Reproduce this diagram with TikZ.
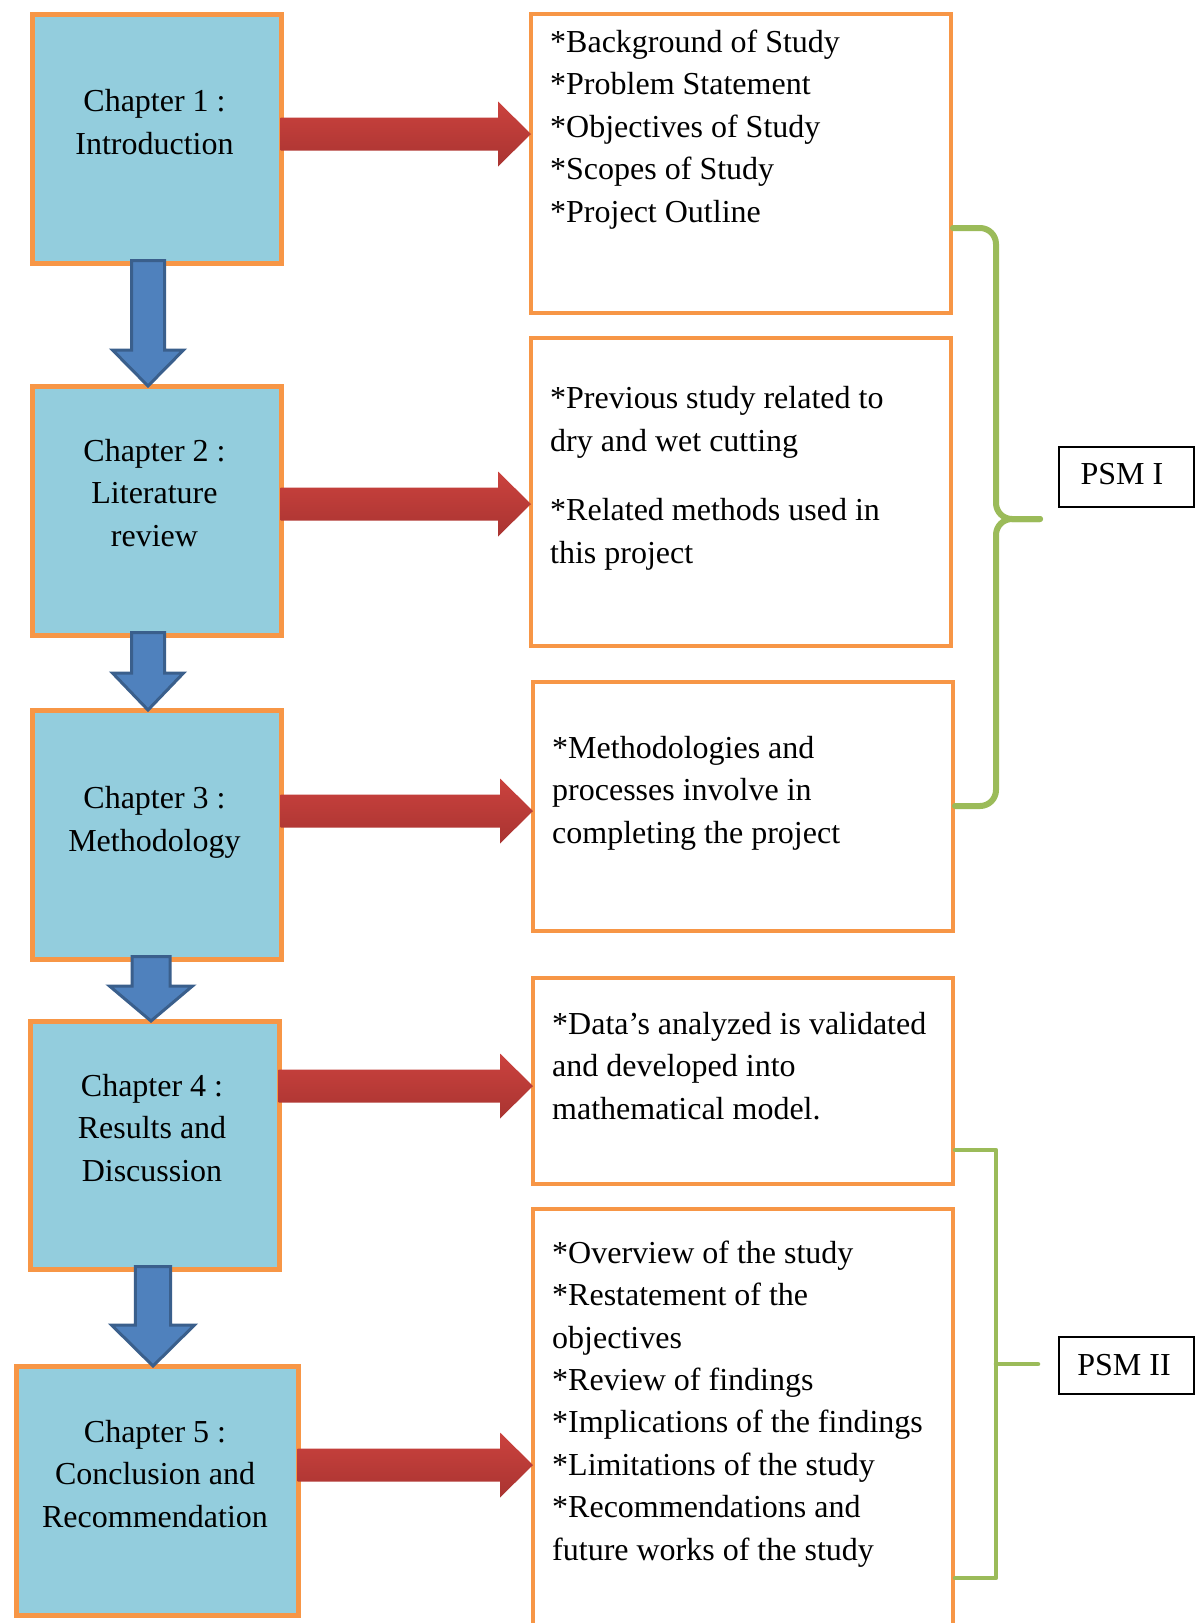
\documentclass[tikz,border=0pt]{standalone}
\usepackage{fontspec}
\setmainfont{Liberation Serif}
\usetikzlibrary{calc}
\definecolor{chfill}{HTML}{93CDDD}
\definecolor{orangeb}{HTML}{F79646}
\definecolor{redtop}{HTML}{CB423E}
\definecolor{redbot}{HTML}{A93431}
\definecolor{blueA}{HTML}{4F81BD}
\definecolor{blueB}{HTML}{3A5F8C}
\definecolor{greenb}{HTML}{9BBB59}
\newcommand\redarrow[3]{%
  \coordinate (ry) at (0,#3);
  \shade[top color=redtop, bottom color=redbot]
    ($(#1.east |- ry)+(-3,-16.5)$) -- ($(#2.west |- ry)+(-31,-16.5)$)
    -- ($(#2.west |- ry)+(-31,-32.5)$) -- ($(#2.west |- ry)+(2,0)$)
    -- ($(#2.west |- ry)+(-31,32.5)$) -- ($(#2.west |- ry)+(-31,16.5)$)
    -- ($(#1.east |- ry)+(-3,16.5)$) -- cycle;}
\newcommand\bluearrow[6]{%
  \coordinate (bx) at (#3,0);
  \filldraw[fill=blueA, draw=blueB, line width=3pt, line join=miter]
    ($(#1.south -| bx)+(-#4,-5)$) -- ($(#2.north -| bx)+(-#4,-#6)$)
    -- ($(#2.north -| bx)+(-#5,-#6)$) -- ($(#2.north -| bx)+(0,2)$)
    -- ($(#2.north -| bx)+(#5,-#6)$) -- ($(#2.north -| bx)+(#4,-#6)$)
    -- ($(#1.south -| bx)+(#4,-5)$) -- cycle;}
\begin{document}
\begin{tikzpicture}[x=1pt,y=-1pt,
  chbox/.style={draw=orangeb, line width=4.5pt, fill=chfill, anchor=north west, inner sep=0pt},
  infobox/.style={draw=orangeb, line width=4pt, fill=white, anchor=north west, inner sep=0pt},
  psmbox/.style={draw=black, line width=1.5pt, fill=white, anchor=north west, inner sep=0pt},
  chtext/.style={font=\fontsize{32}{42.4}\selectfont, align=center, anchor=base, inner sep=0pt},
  infotext/.style={font=\fontsize{32}{42.4}\selectfont, align=left, anchor=base west, inner sep=0pt},
  braceA/.style={draw=greenb, line width=6pt, line cap=round, line join=round},
  braceB/.style={draw=greenb, line width=4.5pt, line cap=round, line join=round}]
\fill[white] (0,0) rectangle (1201,1623);
\useasboundingbox (0,0) rectangle (1201,1623);
% chapter boxes
\node[chbox, minimum width=249pt, minimum height=249pt] (c1) at (30,12) {};
\node[chbox, minimum width=249pt, minimum height=249pt] (c2) at (30,384) {};
\node[chbox, minimum width=249pt, minimum height=249pt] (c3) at (30,708) {};
\node[chbox, minimum width=249pt, minimum height=248pt] (c4) at (28,1019) {};
\node[chbox, minimum width=282pt, minimum height=249pt] (c5) at (14,1364) {};
% info boxes
\node[infobox, minimum width=420pt, minimum height=299pt] (r1) at (529,12) {};
\node[infobox, minimum width=420pt, minimum height=308pt] (r2) at (529,336) {};
\node[infobox, minimum width=420pt, minimum height=249pt] (r3) at (531,680) {};
\node[infobox, minimum width=420pt, minimum height=206pt] (r4) at (531,976) {};
\node[infobox, minimum width=420pt, minimum height=460pt] (r5) at (531,1207) {};
% PSM boxes
\node[psmbox, minimum width=135pt, minimum height=60pt] (p1) at (1058,446) {};
\node[psmbox, minimum width=135pt, minimum height=57pt] (p2) at (1058,1336) {};
\node[chtext] (p1t) at (1122,484) {PSM I};
\node[chtext] (p2t) at (1124,1375) {PSM II};
% chapter texts (y = baseline of last line)
\node[chtext] (t1) at (154.5,154) {Chapter 1 :\\Introduction};
\node[chtext] (t2) at (154.5,546) {Chapter 2 :\\Literature\\review};
\node[chtext] (t3) at (154.5,851) {Chapter 3 :\\Methodology};
\node[chtext] (t4) at (152,1181) {Chapter 4 :\\Results and\\Discussion};
\node[chtext] (t5) at (155,1527) {Chapter 5 :\\Conclusion and\\Recommendation};
% info texts
\node[infotext] (i1) at (550,222) {*Background of Study\\*Problem Statement\\*Objectives of Study\\*Scopes of Study\\*Project Outline};
\node[infotext] (i2a) at (550,451) {*Previous study related to\\dry and wet cutting};
\node[infotext] (i2b) at (550,563) {*Related methods used in\\this project};
\node[infotext] (i3) at (552,843) {*Methodologies and\\processes involve in\\completing the project};
\node[infotext] (i4) at (552,1119) {*Data’s analyzed is validated\\and developed into\\mathematical model.};
\node[infotext] (i5) at (552,1560) {*Overview of the study\\*Restatement of the\\objectives\\*Review of findings\\*Implications of the findings\\*Limitations of the study\\*Recommendations and\\future works of the study};
% red arrows
\redarrow{c1}{r1}{134}
\redarrow{c2}{r2}{504}
\redarrow{c3}{r3}{811}
\redarrow{c4}{r4}{1086}
\redarrow{c5}{r5}{1465}
% blue arrows
\bluearrow{c1}{c2}{148}{16.5}{35.5}{34}
\bluearrow{c2}{c3}{148}{16.5}{35.5}{35}
\bluearrow{c3}{c4}{151}{19}{41.5}{33}
\bluearrow{c4}{c5}{153}{17.6}{41.5}{39}
% brace 1
\coordinate (b1t) at (0,228);
\coordinate (b1b) at (0,806);
\coordinate (b1tip) at (1040,519);
\draw[braceA] (r1.east |- b1t) -- (980,228) to[out=0,in=90] (996,244) -- (996,503) to[out=-90,in=180] (1012,519) -- (b1tip);
\draw[braceA] (r3.east |- b1b) -- (980,806) to[out=0,in=-90] (996,790) -- (996,535) to[out=90,in=180] (1012,519) -- (b1tip);
% bracket 2
\coordinate (b2t) at (0,1150);
\coordinate (b2b) at (0,1578);
\coordinate (b2tip) at (1038,1364);
\draw[braceB] (r4.east |- b2t) -- (996,1150) -- (996,1578) -- (r5.east |- b2b);
\draw[braceB] (996,1364) -- (b2tip);
\end{tikzpicture}
\end{document}
